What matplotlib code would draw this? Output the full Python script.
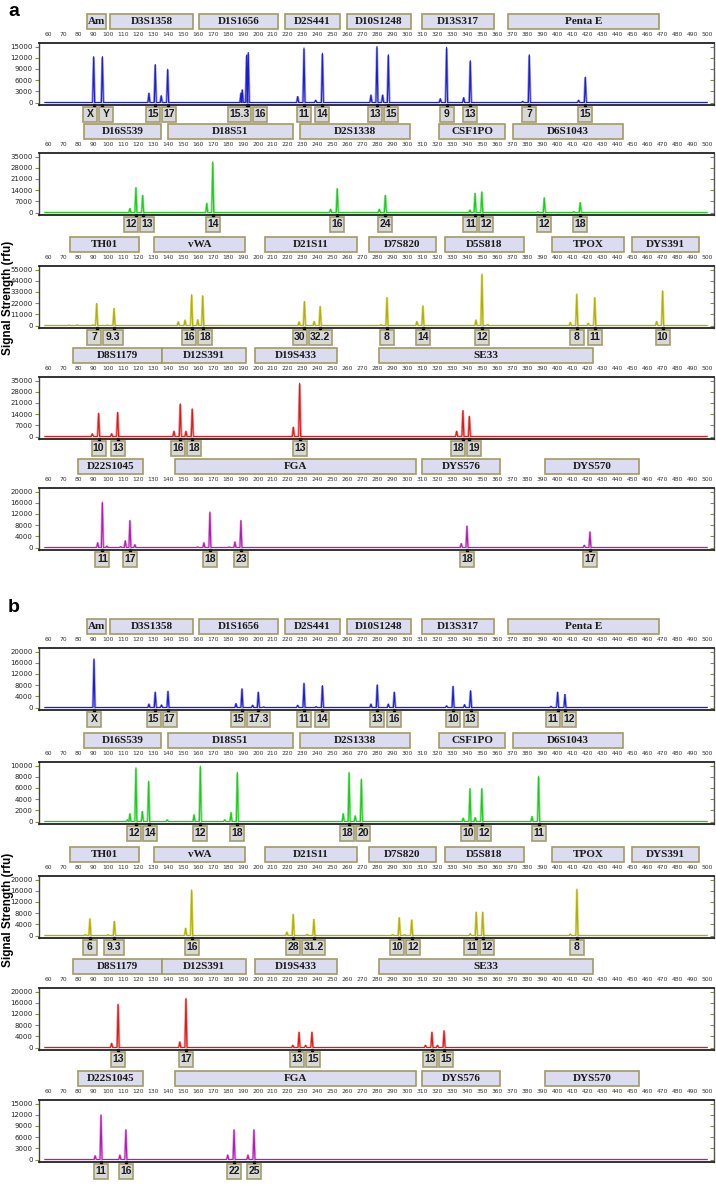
import numpy as np
import matplotlib.pyplot as plt
from matplotlib.patches import Rectangle
from matplotlib import transforms

# ---- marker panels (same for a and b) ----
row1_markers = ['Am', 'D3S1358', 'D1S1656', 'D2S441', 'D10S1248', 'D13S317', 'Penta E']
row1_ranges = [(86.0, 98.7), (101.4, 156.8), (160.8, 213.5), (218.2, 254.9), (259.6, 302.3), (309.7, 357.7), (367.1, 467.9)]
row2_markers = ['D16S539', 'D18S51', 'D2S1338', 'CSF1PO', 'D6S1043']
row2_ranges = [(84.0, 135.4), (140.1, 223.5), (228.2, 301.7), (321.0, 365.1), (370.4, 443.9)]
row3_markers = ['TH01', 'vWA', 'D21S11', 'D7S820', 'D5S818', 'TPOX', 'DYS391']
row3_ranges = [(74.7, 120.7), (130.8, 191.5), (204.9, 266.2), (274.3, 319.0), (325.0, 377.8), (396.4, 444.5), (449.8, 494.6)]
row4_markers = ['D8S1179', 'D12S391', 'D19S433', 'SE33']
row4_ranges = [(76.7, 136.1), (136.1, 192.2), (198.2, 252.9), (281.0, 423.8)]
row5_markers = ['D22S1045', 'FGA', 'DYS576', 'DYS570']
row5_ranges = [(80.0, 123.4), (144.8, 305.7), (309.7, 361.7), (391.8, 454.5)]

size_ticks = list(range(60, 501, 10))

# ---- panel a ----
a1_pos = [90.5, 96.3, 131.6, 139.9, 192.6, 193.7, 230.9, 243.2, 279.6, 287.2, 326.1, 341.9, 381.3, 418.7]
a1_ht = [12300, 12300, 10200, 8900, 12700, 13400, 14600, 13200, 15000, 12800, 14800, 11200, 12800, 6800]
a1_lab = ['X', 'Y', '15', '17', '15.3', '16', '11', '14', '13', '15', '9', '13', '7', '15']
a1_minor = [(127.4, 2500), (135.6, 1800), (188.8, 2500), (189.7, 3400), (226.7, 1600), (238.7, 600),
            (275.6, 2000), (283.4, 2000), (321.9, 1000), (337.5, 1300), (376.9, 300), (414.2, 600)]

a2_pos = [118.7, 123.2, 170.0, 253.1, 285.2, 345.1, 349.6, 391.3, 415.3]
a2_ht = [15600, 10800, 31700, 15000, 10800, 12100, 12900, 9200, 6200]
a2_lab = ['12', '13', '14', '16', '24', '11', '12', '12', '18']
a2_minor = [(114.7, 2500), (166.0, 5800), (248.7, 2000), (281.2, 2000), (341.7, 1500), (387.0, 500), (411.0, 500)]

a3_pos = [92.5, 104.1, 155.9, 163.3, 231.2, 241.7, 286.3, 310.3, 349.7, 413.0, 425.0, 470.3]
a3_ht = [21700, 16800, 30300, 29300, 23700, 18800, 27700, 19400, 50700, 31000, 27700, 34300]
a3_lab = ['7', '9.3', '16', '18', '30', '32.2', '8', '14', '12', '8', '11', '10']
a3_minor = [(74.0, 300), (79.6, 500), (90.0, 500), (99.6, 300), (147.0, 3600), (151.5, 5300), (160.0, 5600),
            (227.6, 3600), (237.7, 4000), (282.3, 800), (306.3, 4000), (345.7, 5300), (353.5, 1000),
            (408.7, 3000), (420.7, 2000), (466.3, 4000)]

a4_pos = [93.8, 106.5, 148.3, 156.3, 228.0, 337.0, 341.3]
a4_ht = [14600, 15200, 20400, 17300, 33300, 16300, 12700]
a4_lab = ['10', '13', '16', '18', '13', '18', '19']
a4_minor = [(89.6, 1700), (102.5, 1700), (144.1, 3300), (152.1, 3300), (223.8, 5800), (332.8, 3300)]

a5_pos = [96.3, 114.7, 168.1, 188.8, 339.7, 421.8]
a5_ht = [16200, 9700, 12700, 9700, 7700, 5600]
a5_lab = ['11', '17', '18', '23', '18', '17']
a5_minor = [(93.2, 1700), (99.3, 500), (108.5, 300), (111.6, 2400), (118.0, 1000), (160.0, 200),
            (164.1, 1700), (181.0, 200), (184.8, 2000), (335.9, 1400), (418.0, 800)]

# ---- panel b ----
b1_pos = [90.7, 131.6, 140.1, 189.5, 200.4, 230.9, 243.2, 279.8, 291.2, 330.4, 342.1, 400.2, 405.1]
b1_ht = [17400, 5500, 5800, 6700, 5500, 8700, 7800, 8100, 5500, 7600, 6000, 5500, 4700]
b1_lab = ['X', '15', '17', '15', '17.3', '11', '14', '13', '16', '10', '13', '11', '12']
b1_minor = [(127.4, 1200), (135.8, 900), (185.5, 1400), (196.6, 800), (204.0, 200), (226.7, 800), (239.0, 300),
            (275.6, 1200), (287.2, 1200), (326.1, 600), (338.1, 1000), (395.8, 400)]

b2_pos = [118.7, 127.2, 161.7, 186.4, 261.0, 269.2, 341.7, 349.6, 387.5]
b2_ht = [9600, 7200, 9900, 8800, 8800, 7600, 5900, 5900, 8100]
b2_lab = ['12', '14', '12', '18', '18', '20', '10', '12', '11']
b2_minor = [(113.0, 300), (114.7, 1400), (123.0, 1800), (139.6, 300), (157.5, 1200), (178.0, 300), (182.2, 1600),
            (257.1, 1400), (265.1, 1000), (337.2, 600), (345.2, 700), (383.1, 900)]

b3_pos = [88.0, 104.3, 155.9, 223.7, 237.5, 294.5, 302.8, 345.9, 350.2, 413.1]
b3_ht = [6000, 5100, 16300, 7600, 5800, 6400, 5600, 8400, 8400, 16600]
b3_lab = ['6', '9.3', '16', '28', '31.2', '10', '12', '11', '12', '8']
b3_minor = [(85.0, 300), (100.0, 300), (151.9, 2600), (219.5, 1200), (233.0, 400), (290.0, 300), (298.0, 300),
            (341.9, 600), (408.7, 500)]

b4_pos = [106.8, 152.1, 227.6, 236.2, 316.3, 324.4]
b4_ht = [15500, 17600, 5500, 5500, 5500, 6000]
b4_lab = ['13', '17', '13', '15', '13', '15']
b4_minor = [(102.5, 1500), (148.0, 2000), (223.5, 800), (232.0, 800), (312.0, 800), (320.0, 800)]

b5_pos = [95.4, 112.0, 184.2, 197.5]
b5_ht = [12000, 8000, 8000, 8000]
b5_lab = ['11', '16', '22', '25']
b5_minor = [(91.5, 1000), (108.0, 1200), (180.0, 1200), (193.5, 1200)]

# y scale maximum and step for every row
a_ymax = [15000, 35000, 55000, 35000, 20000]
a_ystep = [3000, 7000, 11000, 7000, 4000]
b_ymax = [20000, 10000, 20000, 20000, 15000]
b_ystep = [4000, 2000, 4000, 4000, 3000]

# ---- layout (pixels) ----
W, H = 716, 1186
PX0, PX1 = 39, 714
XL = (54.0, 504.6)
PPB = (PX1 - PX0) / (XL[1] - XL[0])
FH = 62
a_tops = [43, 153, 266, 377, 488]
b_tops = [648, 762, 876, 988, 1100]

dyes = [('#1c1cd0', '#9a9af2'), ('#1ec81e', '#8eea8e'), ('#b0b000', '#dada70'),
        ('#e01818', '#f09090'), ('#b01cb0', '#e49ae4')]

fig = plt.figure(figsize=(W / 100, H / 100), dpi=100)


def box_width(label):
    n = len(label)
    return {1: 14, 2: 14, 3: 20}.get(n, 23) / PPB


def spread(pos, widths, gap):
    c = list(pos)
    for _ in range(20):
        groups = [[0]]
        for i in range(1, len(c)):
            j = groups[-1][-1]
            if c[i] - widths[i] / 2 < c[j] + widths[j] / 2 + gap:
                groups[-1].append(i)
            else:
                groups.append([i])
        moved = False
        for g in groups:
            if len(g) < 2:
                continue
            total = sum(widths[k] for k in g) + gap * (len(g) - 1)
            x = np.mean([pos[k] for k in g]) - total / 2
            for k in g:
                new = x + widths[k] / 2
                if abs(new - c[k]) > 1e-6:
                    moved = True
                c[k] = new
                x += widths[k] + gap
        if not moved:
            break
    return c


def draw_row(top, markers, ranges, pos, ht, lab, minor, ymax, ystep, color):
    dark, light = color
    ax = fig.add_axes([PX0 / W, 1 - (top + FH) / H, (PX1 - PX0) / W, FH / H])
    ppu = (FH - 6.0) / ymax
    ax.set_ylim(-2.5 / ppu, ymax + 3.5 / ppu)
    ax.set_xlim(*XL)

    # trace
    allp = sorted([(p, h, True) for p, h in zip(pos, ht)] + [(p, h, False) for p, h in minor])
    xs, ys = [58.0], [0.0]
    xl, yl = [58.0], [0.0]
    for p, h, _ in allp:
        xs += [p - 0.6, p, p + 0.6]
        ys += [0, h, 0]
        xl += [p - 1.1, p - 0.3, p + 0.3, p + 1.1]
        yl += [0, h * 0.97, h * 0.97, 0]
    xs.append(500.0); ys.append(0.0)
    xl.append(500.0); yl.append(0.0)
    ax.plot(xl, yl, color=light, lw=1.0)
    ax.plot(xs, ys, color=dark, lw=0.8)

    ax.xaxis.tick_top()
    ax.set_xticks(size_ticks)
    ax.set_xticklabels([str(t) for t in size_ticks])
    ax.tick_params(axis='x', length=0, labelsize=4.3, pad=4.5, colors='#333333')
    yt = list(range(0, ymax + 1, ystep))
    ax.set_yticks(yt)
    ax.set_yticklabels([str(t) for t in yt])
    ax.tick_params(axis='y', length=3, width=0.8, color='#8a8a40', labelsize=5.0, pad=1.5,
                   direction='out', labelcolor='#222222')
    sec = ax.secondary_yaxis('right')
    sec.set_yticks(yt)
    sec.tick_params(length=3, width=0.8, color='#8a8a40', direction='in', labelright=False)
    sec.spines['right'].set_visible(False)
    for s in ['top', 'bottom']:
        ax.spines[s].set_linewidth(1.3)
        ax.spines[s].set_color('#222222')
    ax.spines['left'].set_linewidth(1.0)
    ax.spines['left'].set_color('#444444')
    ax.spines['right'].set_linewidth(1.0)
    ax.spines['right'].set_color('#555555')

    tr = transforms.blended_transform_factory(ax.transData, ax.transAxes)
    # marker boxes
    for name, (x0, x1) in zip(markers, ranges):
        ax.add_patch(Rectangle((x0, 1 + 14 / FH), x1 - x0, 15 / FH, transform=tr, clip_on=False,
                               facecolor='#dcdcf0', edgecolor='#a39a62', lw=1.2))
        ax.text((x0 + x1) / 2, 1 + 21.5 / FH, name, transform=tr, ha='center', va='center',
                fontsize=8, fontweight='bold', family='Liberation Serif', color='#1a1a1a')
    # allele boxes
    widths = [box_width(l) for l in lab]
    centers = spread(pos, widths, 2.0 / PPB)
    for c, w, l in zip(centers, widths, lab):
        ax.add_patch(Rectangle((c - w / 2, -17 / FH), w, 15 / FH, transform=tr, clip_on=False,
                               facecolor='#d8d8d8', edgecolor='#a39d6d', lw=1.2))
        ax.text(c, -9.3 / FH, l, transform=tr, ha='center', va='center', fontsize=7.5,
                fontweight='bold', family='Liberation Sans', color='#1a1a1a')
    ax.plot(pos, [0] * len(pos), 's', ms=2, color='black', transform=tr, clip_on=False)
    return ax


panel_a = [(a1_pos, a1_ht, a1_lab, a1_minor), (a2_pos, a2_ht, a2_lab, a2_minor),
           (a3_pos, a3_ht, a3_lab, a3_minor), (a4_pos, a4_ht, a4_lab, a4_minor),
           (a5_pos, a5_ht, a5_lab, a5_minor)]
panel_b = [(b1_pos, b1_ht, b1_lab, b1_minor), (b2_pos, b2_ht, b2_lab, b2_minor),
           (b3_pos, b3_ht, b3_lab, b3_minor), (b4_pos, b4_ht, b4_lab, b4_minor),
           (b5_pos, b5_ht, b5_lab, b5_minor)]
marker_rows = [(row1_markers, row1_ranges), (row2_markers, row2_ranges), (row3_markers, row3_ranges),
               (row4_markers, row4_ranges), (row5_markers, row5_ranges)]

for tops, panel, ymaxs, ysteps in [(a_tops, panel_a, a_ymax, a_ystep), (b_tops, panel_b, b_ymax, b_ystep)]:
    for i in range(5):
        draw_row(tops[i], marker_rows[i][0], marker_rows[i][1], *panel[i], ymaxs[i], ysteps[i], dyes[i])

fig.text(8 / W, 1 - 12 / H, 'a', fontsize=14, fontweight='bold', family='Liberation Sans', va='center')
fig.text(8 / W, 1 - 607 / H, 'b', fontsize=14, fontweight='bold', family='Liberation Sans', va='center')
fig.text(8 / W, 1 - 298 / H, 'Signal Strength (rfu)', rotation=90, fontsize=8.5, fontweight='bold',
         family='Liberation Sans', ha='center', va='center')
fig.text(8 / W, 1 - 910 / H, 'Signal Strength (rfu)', rotation=90, fontsize=8.5, fontweight='bold',
         family='Liberation Sans', ha='center', va='center')

fig.savefig('out.png', dpi=100)
